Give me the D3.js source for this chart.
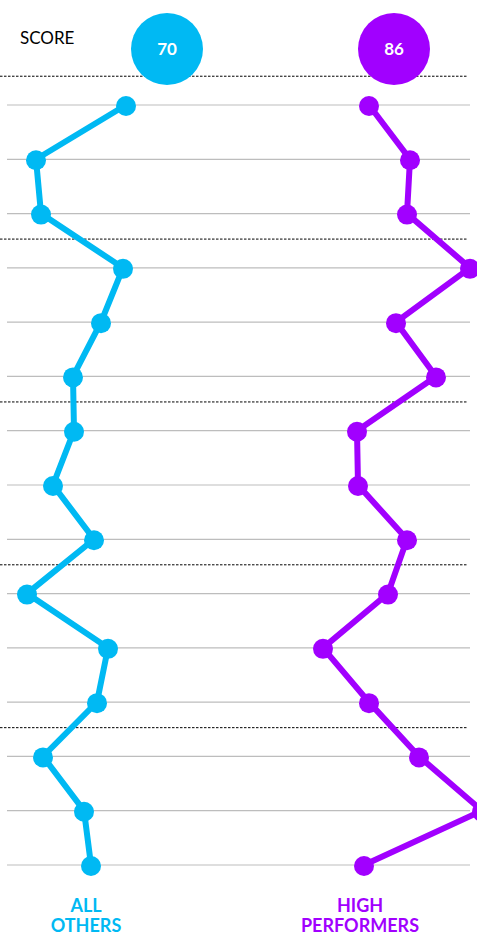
<!DOCTYPE html>
<html>
<head>
<meta charset="utf-8">
<script src="https://cdn.jsdelivr.net/npm/d3@7"></script>
<style>
  html, body { margin: 0; padding: 0; background: #fff; }
  svg { display: block; }
</style>
</head>
<body>
<script>
// Item scores for the two groups, one value per row (top to bottom)
const items = d3.range(15).map(i => "Q" + (i + 1));
const allOthers = [63, 18, 20.5, 61.5, 50.5, 36.5, 37, 26.5, 47, 13.5, 54, 48.5, 21.5, 42, 45.5];
const highPerformers = [64.5, 85, 83.5, 115, 78, 98, 58.5, 59, 83.5, 74, 41.5, 64.5, 89.5, 121, 62];
const overallScores = [70, 86];
const groupNames = [["ALL", "OTHERS"], ["HIGH", "PERFORMERS"]];
const groupColors = ["#00B9F3", "#A100FF"];

const W = 477, H = 932;
const svg = d3.select("body").append("svg").attr("width", W).attr("height", H);

// Rows
const y = d3.scalePoint().domain(items).range([105, 865]);
const step = y.step();

// Each group gets its own horizontal panel; values share one scale
const panel = d3.scaleBand().domain([0, 1]).range([0, 480]);
const x = d3.scaleLinear().domain([0, 120]).range([0, 240]);

// Grey row rules
svg.append("g").selectAll("line").data(items).join("line")
  .attr("x1", 7).attr("x2", 470)
  .attr("y1", d => y(d)).attr("y2", d => y(d))
  .attr("stroke", "#BDBDBD").attr("stroke-width", 1.2);

// Dotted group separators every three rows
const sepRows = items.filter((d, i) => i % 3 === 0);
svg.append("g").selectAll("line").data(sepRows).join("line")
  .attr("x1", 0).attr("x2", 468)
  .attr("y1", d => y(d) - 0.53 * step).attr("y2", d => y(d) - 0.53 * step)
  .attr("stroke", "#000").attr("stroke-width", 1)
  .attr("stroke-dasharray", "2.5,1.5");

// "SCORE" label
svg.append("text").attr("x", 20).attr("y", 44)
  .attr("font-family", "Lato, 'Open Sans', sans-serif").attr("font-size", 17)
  .attr("fill", "#000").text("SCORE");

const series = [allOthers, highPerformers];
const centers = [167, 394];

series.forEach((vals, g) => {
  const px = v => panel(g) + x(v);
  const color = groupColors[g];

  // Overall score badge
  svg.append("circle").attr("cx", centers[g]).attr("cy", 49).attr("r", 36).attr("fill", color);
  svg.append("text").attr("x", centers[g]).attr("y", 49).attr("dy", "0.35em")
    .attr("text-anchor", "middle")
    .attr("font-family", "Lato, 'Open Sans', sans-serif").attr("font-weight", 700)
    .attr("font-size", 17).attr("fill", "#fff").text(overallScores[g]);

  const line = d3.line().x(d => px(d)).y((d, i) => y(items[i]));
  svg.append("path").datum(vals).attr("d", line)
    .attr("fill", "none").attr("stroke", color).attr("stroke-width", 6)
    .attr("stroke-linejoin", "miter");

  svg.append("g").selectAll("circle").data(vals).join("circle")
    .attr("cx", d => px(d)).attr("cy", (d, i) => y(items[i]) + 1)
    .attr("r", 10).attr("fill", color);

  // Group name underneath
  const lx = g === 0 ? 86 : 360;
  const t = svg.append("text").attr("text-anchor", "middle")
    .attr("font-family", "Lato, 'Open Sans', sans-serif").attr("font-weight", 700)
    .attr("font-size", 18).attr("fill", color);
  groupNames[g].forEach((s, k) => {
    t.append("tspan").attr("x", lx).attr("y", 912 + k * 19.5).text(s);
  });
});
</script>
</body>
</html>
